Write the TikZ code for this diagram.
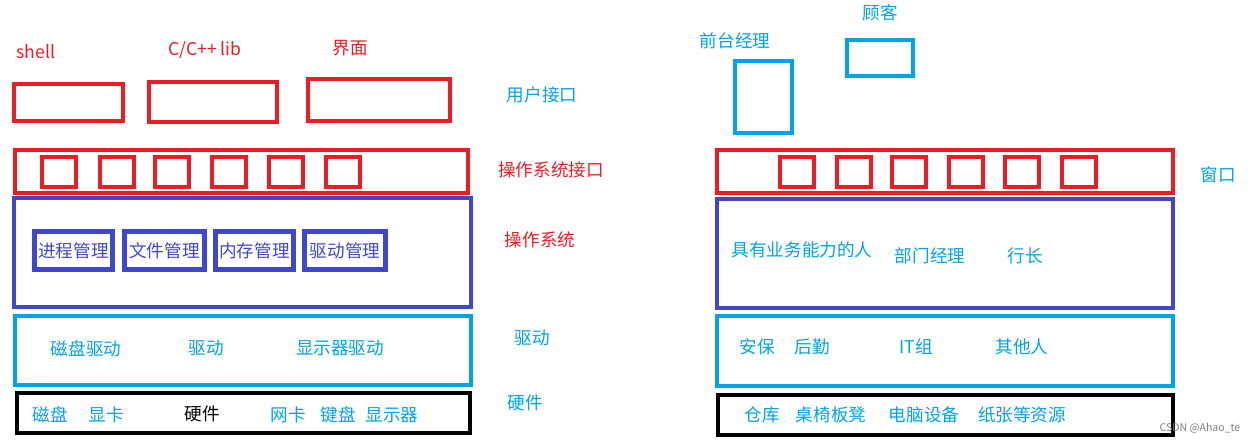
\documentclass[tikz,border=0pt]{standalone}
\usepackage{fontspec}
\setmainfont{Noto Sans CJK SC}
\definecolor{cred}{HTML}{ED1C24}
\definecolor{cblue}{HTML}{3F48CC}
\definecolor{ccyan}{HTML}{00A2E8}
\begin{document}
\begin{tikzpicture}[x=0.02cm,y=-0.02cm,
  box/.style={draw=#1,line width=2.3pt},
  t/.style={text=#1,font=\fontsize{10}{12}\selectfont,inner sep=0pt},
  sub/.style={fill=cblue,inner sep=0pt},
]
\useasboundingbox (0,0) rectangle (1260,444);
% left
\node[t=cred] (sh) at (36,52) {shell};
\node[t=cred] (cl) at (205,50) {C/C++ lib};
\node[t=cred] (jm) at (350,48) {界面};
\draw[box=cred] (14,84) rectangle (123,121);
\draw[box=cred] (149,82) rectangle (277,122);
\draw[box=cred] (308,79) rectangle (450,121);
\node[t=ccyan] (yh) at (542,95) {用户接口};
\draw[box=cred] (15,150) rectangle (468,193);
\foreach \x in {42,100,155,212,269,326} \draw[box=cred] (\x,157) rectangle (\x+34,187);
\node[t=cred] (czjk) at (551,170) {操作系统接口};
\draw[box=cblue] (14,198) rectangle (471,307);
\foreach \a/\b/\s in {32/115/进程管理,122/207/文件管理,213/296/内存管理,302/388/驱动管理}{
  \fill[cblue] (\a,229) rectangle (\b,272);
  \fill[white] (\a+5,234) rectangle (\b-5,267);
  \node[t=cblue] at ({(\a+\b)/2},251) {\s};}
\node[t=cred] (czxt) at (540,240) {操作系统};
\draw[box=ccyan] (15,316) rectangle (471,385);
\node[t=ccyan] at (86,349) {磁盘驱动};
\node[t=ccyan] at (206,348) {驱动};
\node[t=ccyan] at (340,348) {显示器驱动};
\node[t=ccyan] at (532,338) {驱动};
\draw[box=black] (17,393) rectangle (470,433);
\node[t=ccyan] at (50,415) {磁盘};
\node[t=ccyan] at (106,415) {显卡};
\node[t=black] at (202,414) {硬件};
\node[t=ccyan] at (288,415) {网卡};
\node[t=ccyan] at (338,415) {键盘};
\node[t=ccyan] at (392,415) {显示器};
\node[t=ccyan] at (525,403) {硬件};
% right
\node[t=ccyan] at (880,13) {顾客};
\draw[box=ccyan] (847,40) rectangle (913,76);
\node[t=ccyan] at (735,41) {前台经理};
\draw[box=ccyan] (735,61) rectangle (792,133);
\draw[box=cred] (717,150) rectangle (1173,193);
\foreach \x in {780,837,892,949,1005,1062} \draw[box=cred] (\x,157) rectangle (\x+34,187);
\node[t=ccyan] at (1218,175) {窗口};
\draw[box=cblue] (717,199) rectangle (1173,308);
\node[t=ccyan] at (802,250) {具有业务能力的人};
\node[t=ccyan] at (930,256) {部门经理};
\node[t=ccyan] at (1025,256) {行长};
\draw[box=ccyan] (717,316) rectangle (1173,386);
\node[t=ccyan] at (757,347) {安保};
\node[t=ccyan] at (812,347) {后勤};
\node[t=ccyan] at (916,347) {IT组};
\node[t=ccyan] at (1022,347) {其他人};
\draw[box=black] (718,395) rectangle (1173,435);
\node[t=ccyan] at (762,415) {仓库};
\node[t=ccyan] at (831,415) {桌椅板凳};
\node[t=ccyan] at (924,415) {电脑设备};
\node[t=ccyan] at (1022,415) {纸张等资源};
\node[text=gray,font=\fontsize{6}{7}\selectfont,inner sep=0pt] at (1200,428) {CSDN @Ahao\_te};
\end{tikzpicture}
\end{document}
